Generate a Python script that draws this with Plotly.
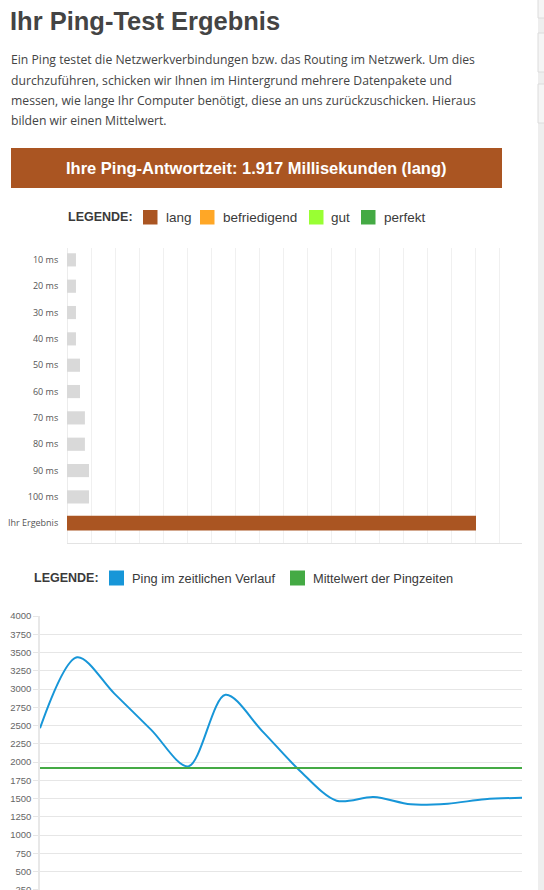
import plotly.graph_objects as go

W, H = 544, 890

# ---------------- data ----------------
bar_categories = ["10 ms", "20 ms", "30 ms", "40 ms", "50 ms", "60 ms",
                  "70 ms", "80 ms", "90 ms", "100 ms", "Ihr Ergebnis"]
bar_values = [42, 42, 42, 42, 61, 61, 84, 84, 103, 103, 1917]
result_ms = 1917

ping_index = list(range(1, 15))
ping_values = [2462, 3435, 2940, 2440, 1940, 2920, 2420, 1885,
               1470, 1520, 1420, 1430, 1490, 1510]
mean_ping = 1917

legend1_labels = ["lang", "befriedigend", "gut", "perfekt"]
legend2_labels = ["Ping im zeitlichen Verlauf", "Mittelwert der Pingzeiten"]

title_text = "Ihr Ping-Test Ergebnis"
intro_lines = [
    "Ein Ping testet die Netzwerkverbindungen bzw. das Routing im Netzwerk. Um dies",
    "durchzuführen, schicken wir Ihnen im Hintergrund mehrere Datenpakete und",
    "messen, wie lange Ihr Computer benötigt, diese an uns zurückzuschicken. Hieraus",
    "bilden wir einen Mittelwert.",
]
banner_text = "Ihre Ping-Antwortzeit: 1.917 Millisekunden (lang)"

# ---------------- styles ----------------
BROWN = "#aa5522"
ORANGE = "#ffa726"
LIME = "#99ff33"
GREEN = "#44aa44"
BLUE = "#1796d8"
GREY_BAR = "#d9d9d9"
legend1_colors = [BROWN, ORANGE, LIME, GREEN]
legend2_colors = [BLUE, GREEN]

HEAD = "Liberation Sans, Arial, sans-serif"
BODY = "Open Sans, Noto Sans, sans-serif"
TXT = "#3a3a3a"


def px(x):
    return x / W


def py(y):
    return 1 - y / H


fig = go.Figure()

# bar chart (reference values + own result)
fig.add_trace(go.Bar(
    x=bar_values, y=bar_categories, orientation="h",
    marker=dict(color=[GREY_BAR] * (len(bar_values) - 1) + [BROWN], line=dict(width=0)),
    width=[0.5] * (len(bar_values) - 1) + [0.56],
    xaxis="x", yaxis="y", showlegend=False, hoverinfo="x+y",
))

# line chart
fig.add_trace(go.Scatter(
    x=ping_index, y=ping_values, mode="lines",
    line=dict(color=BLUE, width=2, shape="spline", smoothing=0.9),
    xaxis="x2", yaxis="y2", showlegend=False, cliponaxis=True,
))
fig.add_trace(go.Scatter(
    x=[ping_index[0], ping_index[-1]], y=[mean_ping, mean_ping], mode="lines",
    line=dict(color=GREEN, width=2),
    xaxis="x2", yaxis="y2", showlegend=False,
))

shapes = []
annotations = []

# title + intro text
annotations.append(dict(text="<b>" + title_text + "</b>", x=px(8), y=py(21),
                        xref="paper", yref="paper",
                        xanchor="left", yanchor="middle", showarrow=False,
                        font=dict(family=HEAD, size=25.5, color="#444444")))
for i, line in enumerate(intro_lines):
    yc = [59.5, 80, 100.7, 120.7][i]
    annotations.append(dict(text=line, x=px(9), y=py(yc), xref="paper", yref="paper",
                            xanchor="left", yanchor="middle", showarrow=False,
                            font=dict(family=BODY, size=12.2, color="#444444")))

# banner
shapes.append(dict(type="rect", xref="paper", yref="paper", x0=px(11), x1=px(502),
                   y0=py(188), y1=py(148), fillcolor=BROWN, line=dict(width=0), layer="below"))
annotations.append(dict(text="<b>" + banner_text + "</b>", x=px(256), y=py(168),
                        xref="paper", yref="paper",
                        xanchor="center", yanchor="middle", showarrow=False,
                        font=dict(family=HEAD, size=16.5, color="white")))

# legend 1
annotations.append(dict(text="<b>LEGENDE:</b>", x=px(135), y=py(217), xref="paper", yref="paper",
                        xanchor="right", yanchor="middle", showarrow=False,
                        font=dict(family=HEAD, size=12.5, color=TXT)))
sq1 = [143, 200, 309, 361]
lab1 = [164, 221, 329, 382]
for c, s, l, t in zip(legend1_colors, sq1, lab1, legend1_labels):
    shapes.append(dict(type="rect", xref="paper", yref="paper", x0=px(s), x1=px(s + 14.5),
                       y0=py(224.5), y1=py(210), fillcolor=c, line=dict(width=0)))
    annotations.append(dict(text=t, x=px(l), y=py(217), xref="paper", yref="paper",
                            xanchor="left", yanchor="middle", showarrow=False,
                            font=dict(family=HEAD, size=13.5, color=TXT)))

# legend 2
annotations.append(dict(text="<b>LEGENDE:</b>", x=px(101), y=py(578), xref="paper", yref="paper",
                        xanchor="right", yanchor="middle", showarrow=False,
                        font=dict(family=HEAD, size=12.5, color=TXT)))
sq2 = [109, 290]
lab2 = [130, 311]
for c, s, l, t in zip(legend2_colors, sq2, lab2, legend2_labels):
    shapes.append(dict(type="rect", xref="paper", yref="paper", x0=px(s), x1=px(s + 15),
                       y0=py(585.5), y1=py(570.5), fillcolor=c, line=dict(width=0)))
    annotations.append(dict(text=t, x=px(l), y=py(578), xref="paper", yref="paper",
                            xanchor="left", yanchor="middle", showarrow=False,
                            font=dict(family=HEAD, size=12.8, color=TXT)))

# right-hand page strip and buttons
shapes.append(dict(type="rect", xref="paper", yref="paper", x0=px(538), x1=px(545),
                   y0=py(891), y1=py(-1), fillcolor="#eeeeee", line=dict(width=0), layer="below"))
for (a, b) in [(-6, 18), (33, 72), (84, 123)]:
    shapes.append(dict(type="rect", xref="paper", yref="paper", x0=px(538), x1=px(550),
                       y0=py(b), y1=py(a), fillcolor="#f5f5f5",
                       line=dict(color="#dcdcdc", width=1), layer="below"))

# bar chart scale: ms per pixel derived from result bar
bar_x_max = result_ms * (522 - 67) / (476 - 67)
grid_step = result_ms * 24 / (476 - 67)

fig.update_layout(
    width=W, height=H,
    margin=dict(l=0, r=0, t=0, b=0, autoexpand=False),
    paper_bgcolor="white", plot_bgcolor="white",
    showlegend=False,
    shapes=shapes, annotations=annotations,
    xaxis=dict(domain=[px(67), px(522)], anchor="y", range=[0, bar_x_max],
               tick0=0, dtick=grid_step, showticklabels=False, automargin=False,
               showgrid=True, gridcolor="#f0f0f0", gridwidth=1,
               zeroline=True, zerolinecolor="#ececec", zerolinewidth=1,
               showline=True, linecolor="#e3e3e3", linewidth=1, ticks=""),
    yaxis=dict(domain=[py(543), py(248)], anchor="x", type="category", automargin=False,
               categoryorder="array", categoryarray=bar_categories,
               range=[10.75, -0.45], showgrid=False, zeroline=False,
               ticks="outside", ticklen=6, tickcolor="rgba(0,0,0,0)",
               tickfont=dict(family=BODY, size=9, color="#555555")),
    xaxis2=dict(domain=[px(40), px(522)], anchor="y2", range=[1, 14], automargin=False,
                showticklabels=False, showgrid=False, zeroline=False, ticks=""),
    yaxis2=dict(domain=[0, py(616)], anchor="x2", range=[247, 4000], automargin=False,
                tick0=0, dtick=250, showgrid=True, gridcolor="#e6e6e6", gridwidth=1.2,
                zeroline=False, showline=True, linecolor="#e8e8e8", linewidth=1.5,
                ticks="outside", ticklen=5, tickcolor="#e6e6e6",
                ticklabeloverflow="allow",
                tickfont=dict(family="Liberation Sans, Arial, sans-serif", size=9.5, color="#666666")),
)

fig.write_html("out.html",
               config={"displayModeBar": False},
               post_script="document.body.style.margin='0';document.body.style.overflow='hidden';")
